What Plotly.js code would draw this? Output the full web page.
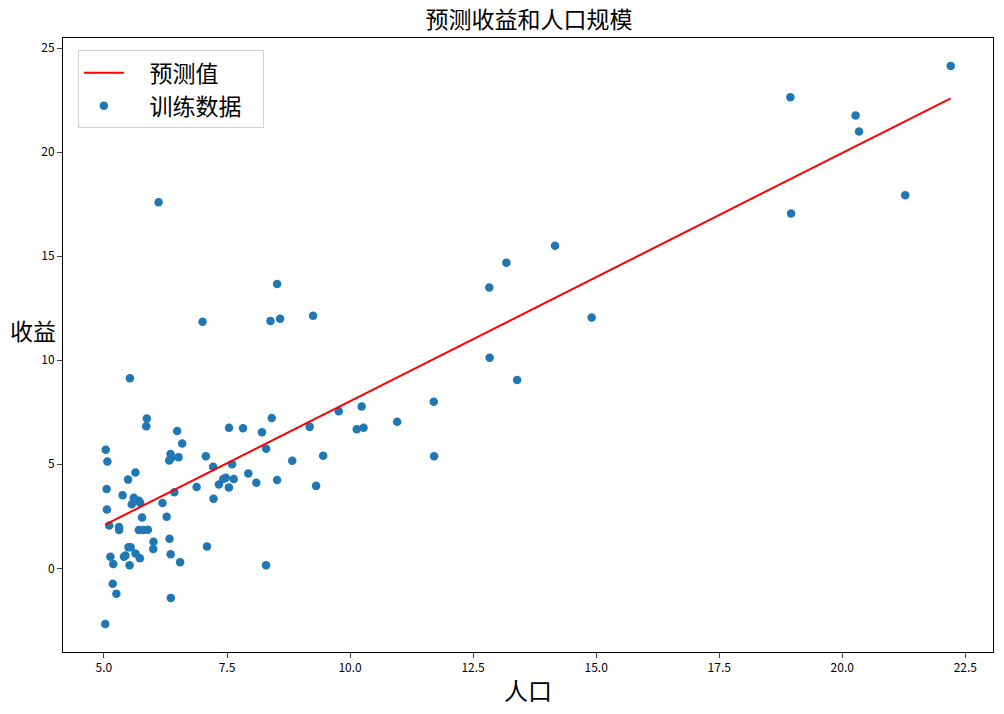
<!DOCTYPE html>
<html>
<head>
<meta charset="utf-8">
<script src="https://cdn.plot.ly/plotly-3.0.1.min.js"></script>
<style>html,body{margin:0;padding:0;background:#fff;}#chart{width:1004px;height:714px;}</style>
</head>
<body>
<div id="chart"></div>
<script>
const population = [6.1101,5.5277,8.5186,7.0032,5.8598,8.3829,7.4764,8.5781,6.4862,5.0546,5.7107,14.164,5.734,8.4084,5.6407,5.3794,6.3654,5.1301,6.4296,7.0708,6.1891,20.27,5.4901,6.3261,5.5649,18.945,12.828,10.957,13.176,22.203,5.2524,6.5894,9.2482,5.8918,8.2111,7.9334,8.0959,5.6063,12.836,6.3534,5.4069,6.8825,11.708,5.7737,7.8247,7.0931,5.0702,5.8014,11.7,5.5416,7.5402,5.3077,7.4239,7.6031,6.3328,6.3589,6.2742,5.6397,9.3102,9.4536,8.8254,5.1793,21.279,14.908,18.959,7.2182,8.2951,10.236,5.4994,20.341,10.136,7.3345,6.0062,7.2259,5.0269,6.5479,7.5386,5.0365,10.274,5.1077,5.7292,5.1884,6.3557,9.7687,6.5159,8.5172,9.1802,6.002,5.5204,5.0594,5.7077,7.6366,5.8707,5.3054,8.2934,13.394,5.4369];
const profit = [17.592,9.1302,13.662,11.854,6.8233,11.886,4.3483,12,6.5987,3.8166,3.2522,15.505,3.1551,7.2258,0.71618,3.5129,5.3048,0.56077,3.6518,5.3893,3.1386,21.767,4.263,5.1875,3.0825,22.638,13.501,7.0467,14.692,24.147,-1.22,5.9966,12.134,1.8495,6.5426,4.5623,4.1164,3.3928,10.117,5.4974,0.55657,3.9115,5.3854,2.4406,6.7318,1.0463,5.1337,1.844,8.0043,1.0179,6.7504,1.8396,4.2885,4.9981,1.4233,-1.4211,2.4756,4.6042,3.9624,5.4141,5.1694,-0.74279,17.929,12.054,17.054,4.8852,5.7442,7.7754,1.0173,20.992,6.6799,4.0259,1.2784,3.3411,-2.6807,0.29678,3.8845,5.7014,6.7526,2.0576,0.47953,0.20421,0.67861,7.5435,5.3436,4.2415,6.7981,0.92695,0.152,2.8214,1.8451,4.2959,7.2029,1.9869,0.14454,9.0551,0.61705];
const predX = [5.0269, 22.203];
const predY = [2.10, 22.59];
const xTicks = [5.0, 7.5, 10.0, 12.5, 15.0, 17.5, 20.0, 22.5];
const xTickText = ['5.0','7.5','10.0','12.5','15.0','17.5','20.0','22.5'];
const yTicks = [0, 5, 10, 15, 20, 25];

const FONT = '"Noto Sans CJK SC", "DejaVu Sans", sans-serif';
const PAD = '\u00a0\u00a0\u00a0\u00a0';

const traces = [
  {x: population, y: profit, mode: 'markers', type: 'scatter', name: PAD + '训练数据' + '\u00a0\u00a0\u00a0',
   marker: {color: '#1f77b4', size: 8.5}, legendrank: 2},
  {x: predX, y: predY, mode: 'lines', type: 'scatter', name: PAD + '预测值',
   line: {color: '#ff0000', width: 2}, legendrank: 1}
];

const layout = {
  width: 1004, height: 714,
  margin: {l: 63, r: 11, t: 38, b: 62},
  paper_bgcolor: '#fff', plot_bgcolor: '#fff',
  font: {family: FONT, color: '#000'},
  title: {text: '预测收益和人口规模', font: {size: 23, family: FONT, color: '#000'}, x: 0.527, xanchor: 'center', y: 0.972, yanchor: 'middle'},
  xaxis: {range: [4.168, 23.062], tickvals: xTicks, ticktext: xTickText, ticks: 'outside', ticklen: 5, tickwidth: 1,
    showgrid: false, zeroline: false, showline: true, linecolor: '#000', linewidth: 1, mirror: true,
    tickfont: {size: 12, family: FONT},
    title: {text: '人口', font: {size: 24, family: FONT}, standoff: 8}},
  yaxis: {range: [-4.022, 25.488], tickvals: yTicks, ticks: 'outside', ticklen: 5, tickwidth: 1,
    showgrid: false, zeroline: false, showline: true, linecolor: '#000', linewidth: 1, mirror: true,
    tickfont: {size: 12, family: FONT},
    title: {text: ''}},
  annotations: [{text: '收益', xref: 'paper', yref: 'paper', x: -0.032, y: 0.524, xanchor: 'center', yanchor: 'middle',
    showarrow: false, font: {size: 23, family: FONT, color: '#000'}}],
  showlegend: true,
  legend: {x: 0.016, y: 0.98, xanchor: 'left', yanchor: 'top', bgcolor: 'rgba(255,255,255,0.8)',
    bordercolor: '#d0d0d0', borderwidth: 1, font: {size: 23, family: FONT}, itemwidth: 40, tracegroupgap: 0}
};

Plotly.newPlot('chart', traces, layout, {displayModeBar: false, staticPlot: true});
</script>
</body>
</html>
